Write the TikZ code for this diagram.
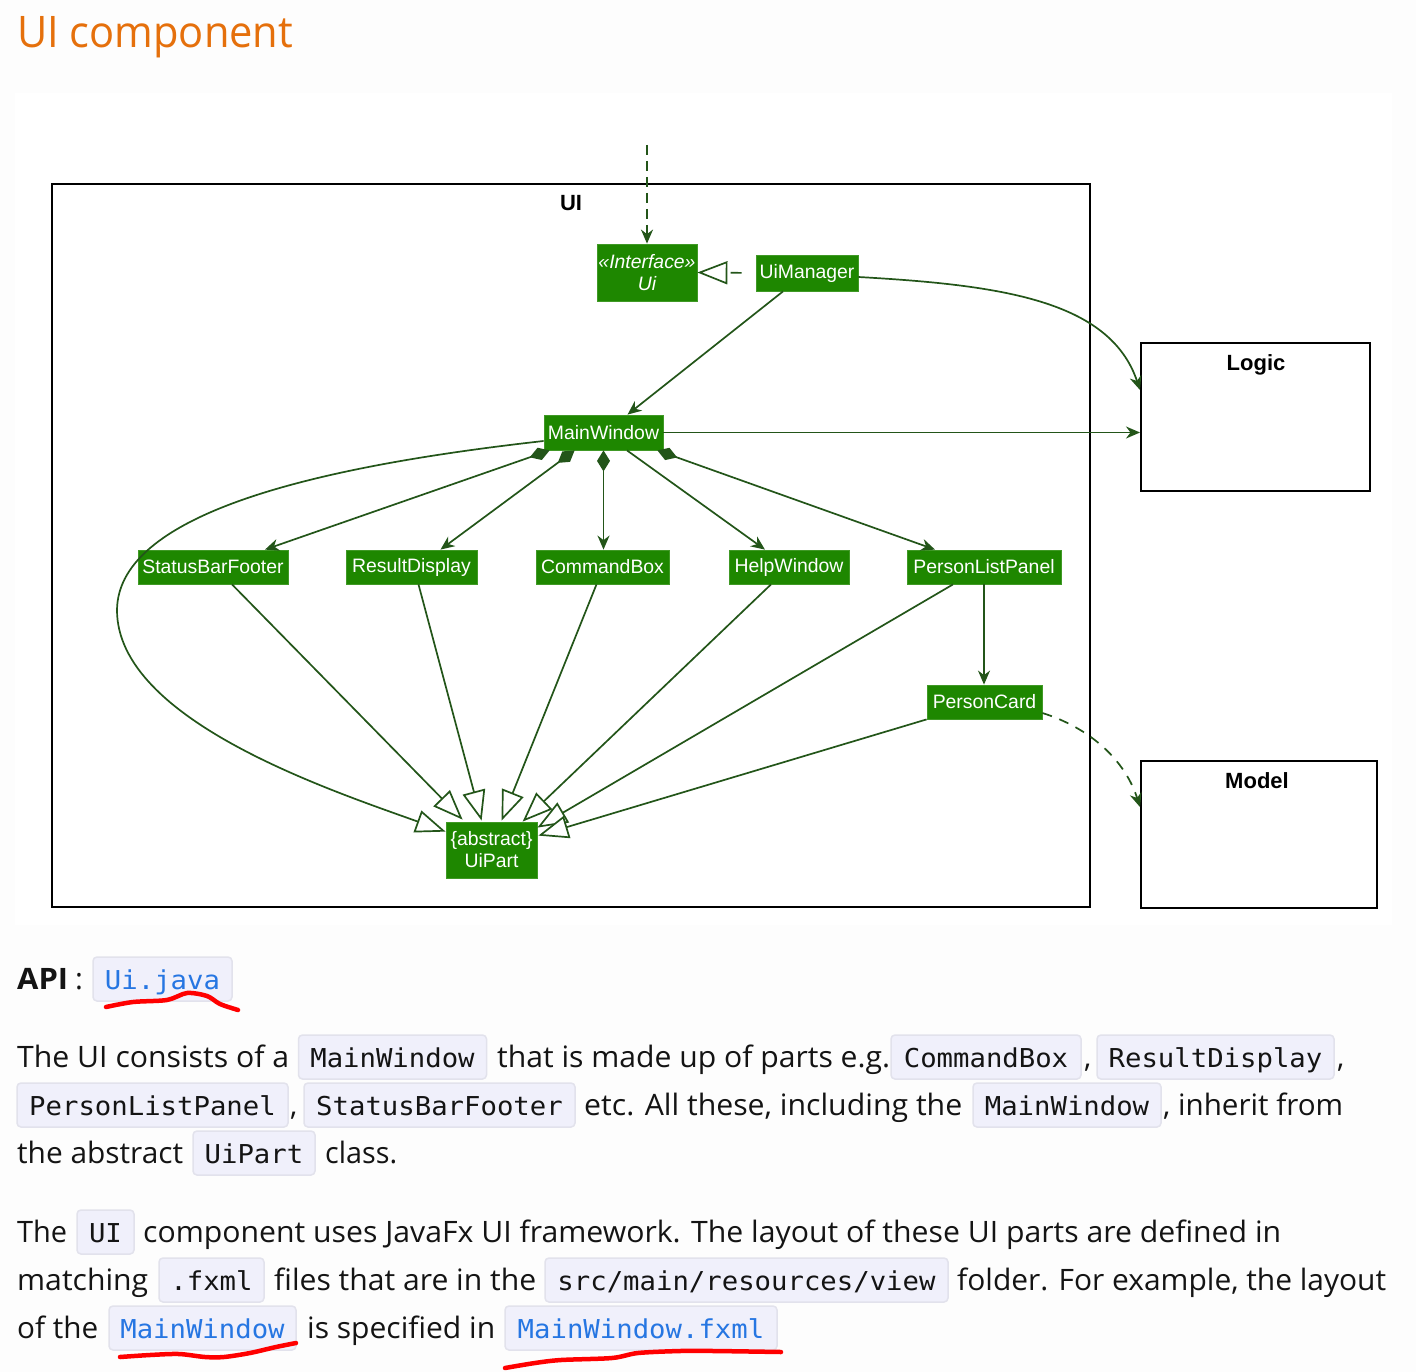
\documentclass[tikz,border=0pt]{standalone}
\usepackage{fontspec}
\usepackage{graphicx}
\usetikzlibrary{arrows.meta,calc}
\setmainfont{Open Sans}
\newfontfamily\bodyf{Open Sans}
\newfontfamily\monof[FakeStretch=1.05]{DejaVu Sans Mono}
\newfontfamily\arialf{Liberation Sans}
\newcommand{\mybody}{\bodyf\fontsize{29.5pt}{36pt}\selectfont}
\newcommand{\mybodybold}{\bodyf\bfseries\fontsize{29.5pt}{36pt}\selectfont}
\newcommand{\mytitle}{\bodyf\fontsize{43.5pt}{50pt}\selectfont}
\newcommand{\mycode}{\monof\fontsize{26pt}{30pt}\selectfont}
\newcommand{\mycls}{\arialf\fontsize{19.4pt}{22pt}\selectfont}
\newcommand{\mypkg}{\arialf\bfseries\fontsize{22pt}{26pt}\selectfont}
\newcommand{\fw}[2]{\resizebox{#1pt}{\height}{#2}}
\definecolor{pagebg}{RGB}{253,253,253}
\definecolor{titleor}{RGB}{229,112,12}
\definecolor{clsgreen}{RGB}{30,135,0}
\definecolor{lnc}{RGB}{35,85,25}
\definecolor{codefill}{RGB}{240,240,251}
\definecolor{codeborder}{RGB}{226,226,236}
\definecolor{codeblue}{RGB}{38,118,226}
\definecolor{bodyc}{RGB}{20,20,20}
\tikzset{
  bt/.style={anchor=base west,inner sep=0,font=\mybody,text=bodyc},
  code/.style={anchor=base,inner xsep=0,inner ysep=0,text height=32pt,text depth=12pt,
    fill=codefill,draw=codeborder,line width=1.5pt,rounded corners=4pt,font=\mycode,text=bodyc},
  cls/.style={fill=clsgreen,draw=clsgreen!85!white,line width=0.8pt,text=white,font=\mycls,
    inner sep=0,align=center},
  box/.style={draw=black,line width=2pt,fill=white,inner sep=0},
  lbl/.style={anchor=base,inner sep=0,font=\mypkg,text=black},
  ln/.style={draw=lnc,line width=1.7pt},
  arr/.style={-{Stealth[length=14pt,width=12pt,inset=4.5pt]}},
  inh/.style={-{Triangle[length=30pt,width=23pt,fill=white]}},
  comp/.style={{Diamond[length=21pt,width=13pt]}-{Stealth[length=14pt,width=12pt,inset=4.5pt]}},
  redu/.style={draw=red,line width=4.5pt,line cap=round,line join=round}
}
\begin{document}
\begin{tikzpicture}[x=1pt,y=-1pt]
\useasboundingbox (0,0) rectangle (1416,1372);
\fill[pagebg] (0,0) rectangle (1416,1372);
\fill[white] (15,93) rectangle (1392,925);

% title
\node[anchor=base west,inner sep=0,font=\mytitle,text=titleor] (title) at (17,48) {\fw{276}{UI component}};

% boxes
\node[box,minimum width=1038pt,minimum height=723pt] (uipkg) at (571,545.5) {};
\node[box,minimum width=229pt,minimum height=148pt] (logic) at (1255.5,417) {};
\node[box,minimum width=236pt,minimum height=147pt] (model) at (1259,834.5) {};
\node[lbl] (uilbl) at (571,211) {UI};
\node[lbl] (logiclbl) at (1256,370) {Logic};
\node[lbl] (modellbl) at (1257,788) {Model};

% classes
\node[cls,minimum width=100pt,minimum height=57pt,font=\mycls\itshape] (ui) at (647,272.5) {«Interface»\\Ui};
\node[cls,minimum width=102pt,minimum height=36pt] (uimgr) at (807,273) {UiManager};
\node[cls,minimum width=119pt,minimum height=35pt] (mw) at (603.5,432.5) {MainWindow};
\node[cls,minimum width=150pt,minimum height=34pt] (sbf) at (213,567) {StatusBarFooter};
\node[cls,minimum width=131pt,minimum height=34pt] (rd) at (411.5,567) {ResultDisplay};
\node[cls,minimum width=133pt,minimum height=34pt] (cb) at (602.5,567) {CommandBox};
\node[cls,minimum width=120pt,minimum height=34pt] (hw) at (789,567) {HelpWindow};
\node[cls,minimum width=154pt,minimum height=34pt] (plp) at (984,567) {PersonListPanel};
\node[cls,minimum width=115pt,minimum height=34pt] (pc) at (984.5,702) {PersonCard};
\node[cls,minimum width=91pt,minimum height=56pt] (up) at (491.5,850) {\{abstract\}\\UiPart};

% connectors
\coordinate (topc) at (647,145);
\draw[ln,arr,dash pattern=on 10pt off 6pt] (topc) -- (ui.north);
\draw[ln,inh,dash pattern=on 11pt off 14pt,dash phase=11pt] (uimgr.west) -- (ui.east);
\draw[ln,arr] ([xshift=-24pt]uimgr.south) -- ([xshift=24pt]mw.north);
\draw[ln,arr] ([yshift=-4pt]uimgr.east) .. controls (1000,285) and (1110,300) .. ([yshift=27pt]logic.west);
\draw[ln,arr] (mw.east) -- (mw.east -| logic.west);

\draw[ln,comp] ([xshift=6pt]mw.south west) -- ([xshift=52pt]sbf.north);
\draw[ln,comp] ([xshift=31pt]mw.south west) -- ([xshift=29pt]rd.north);
\draw[ln,comp] (mw.south) -- (mw.south |- cb.north);
\draw[ln,arr] ([xshift=23.5pt]mw.south) -- ([xshift=-24pt]hw.north);
\draw[ln,comp] ([xshift=-6pt]mw.south east) -- ([xshift=-49pt]plp.north);
\draw[ln,arr] (plp.south) -- (plp.south |- pc.north);

\draw[ln,inh] ([yshift=-8.5pt]mw.west) .. controls (330,465) and (118,510) .. (117,610)
   .. controls (117,720) and (330,790) .. ($(up.north west)+(0,10)$);
\draw[ln,inh] ([xshift=19pt]sbf.south) -- ($(up.north west)+(17,-2)$);
\draw[ln,inh] ([xshift=7pt]rd.south) -- ($(up.north west)+(36,-1)$);
\draw[ln,inh] ([xshift=-6pt]cb.south) -- ($(up.north west)+(56,-1)$);
\draw[ln,inh] ([xshift=-18pt]hw.south) -- ($(up.north west)+(77,0)$);
\draw[ln,inh] ([xshift=-31pt]plp.south) -- ($(up.north east)+(0,6)$);
\draw[ln,inh] (pc.south west) -- ($(up.north east)+(1,14)$);
\draw[ln,arr,dash pattern=on 10pt off 8pt] ([yshift=-11pt]pc.east) .. controls (1090,728) and (1125,760) .. ([yshift=27.5pt]model.west);

% API line
\node[bt,font=\mybodybold] (api) at (17,989) {\fw{51}{API}};
\node[bt] (apic) at (75,989) {:};
\node[code,text=codeblue,minimum width=139pt] (apij) at (162.5,989) {Ui.java};

% paragraph 1
\node[bt] (p1a) at (17,1067) {\fw{272}{The UI consists of a}};
\node[code,minimum width=188pt] (p1b) at (392.5,1067) {MainWindow};
\node[bt] (p1c) at (497,1067) {\fw{393}{that is made up of parts e.g.}};
\node[code,minimum width=190pt] (p1d) at (986,1067) {CommandBox};
\node[bt] (p1e) at (1084,1067) {,};
\node[code,minimum width=237pt] (p1f) at (1215.5,1067) {ResultDisplay};
\node[bt] (p1g) at (1337,1067) {,};

\node[code,minimum width=271pt] (p2a) at (152.5,1115) {PersonListPanel};
\node[bt] (p2b) at (290,1115) {,};
\node[code,minimum width=271pt] (p2c) at (439.5,1115) {StatusBarFooter};
\node[bt] (p2d) at (584,1115) {\fw{378}{etc. All these, including the}};
\node[code,minimum width=188pt] (p2e) at (1067,1115) {MainWindow};
\node[bt] (p2f) at (1163,1115) {\fw{180}{, inherit from}};

\node[bt] (p3a) at (17,1163) {\fw{166}{the abstract}};
\node[code,minimum width=122pt] (p3b) at (254,1163) {UiPart};
\node[bt] (p3c) at (325,1163) {\fw{72}{class.}};

% paragraph 2
\node[bt] (q1a) at (17,1242) {\fw{50}{The}};
\node[code,minimum width=57pt] (q1b) at (105.5,1242) {UI};
\node[bt] (q1c) at (143,1242) {\fw{1138}{component uses JavaFx UI framework. The layout of these UI parts are defined in}};

\node[bt] (q2a) at (17,1290) {\fw{131}{matching}};
\node[code,minimum width=105pt] (q2b) at (211.5,1290) {.fxml};
\node[bt] (q2c) at (274,1290) {\fw{262}{files that are in the}};
\node[code,minimum width=403pt] (q2d) at (746.5,1290) {src/main/resources/view};
\node[bt] (q2e) at (957,1290) {\fw{429}{folder. For example, the layout}};

\node[bt] (q3a) at (17,1338) {\fw{81}{of the}};
\node[code,text=codeblue,minimum width=187pt] (q3b) at (202.5,1338) {MainWindow};
\node[bt] (q3c) at (307,1338) {\fw{188}{is specified in}};
\node[code,text=codeblue,minimum width=272pt] (q3d) at (641,1338) {MainWindow.fxml};

% red hand-drawn underlines
\draw[redu] plot[smooth] coordinates {(106,1007) (133,1002) (167,1000) (187,993) (207,996) (220,1004) (238,1010)};
\draw[redu] plot[smooth] coordinates {(120,1357) (150,1355) (179,1354) (205,1357) (224,1357) (250,1353) (276,1347) (296,1343)};
\draw[redu] plot[smooth] coordinates {(505,1368) (535,1363) (561,1360) (612,1358) (638,1353) (680,1351) (714,1351) (781,1352)};
\end{tikzpicture}
\end{document}
